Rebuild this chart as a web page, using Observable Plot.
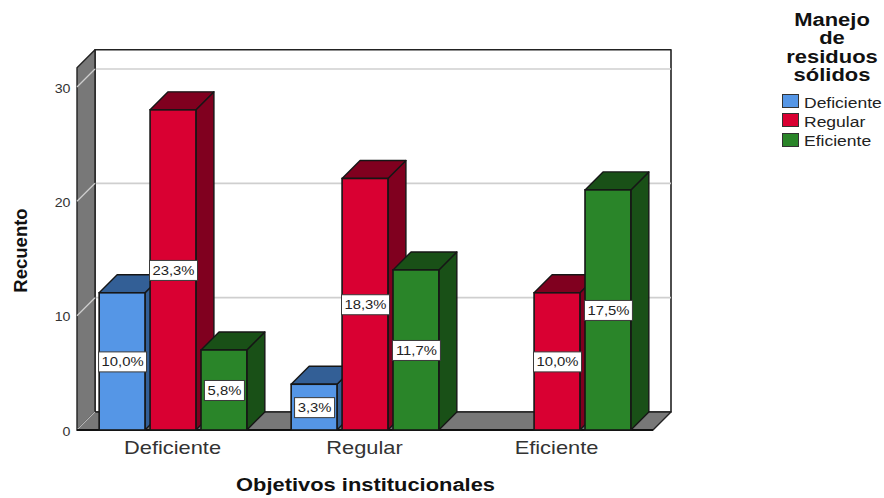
<!DOCTYPE html>
<html>
<head>
<meta charset="utf-8">
<script src="https://cdn.jsdelivr.net/npm/d3@7"></script>
<script src="https://cdn.jsdelivr.net/npm/@observablehq/plot@0.6"></script>
<style>
html,body{margin:0;padding:0;background:#fff}
#wrap{position:relative;width:884px;height:498px;overflow:hidden;font-family:"Liberation Sans",Arial,sans-serif}
#legendTitle{position:absolute;left:772px;top:11px;width:120px;text-align:center;font-weight:bold;font-size:18px;line-height:18.3px;color:#111}
#legendTitle div{transform:scaleX(1.22)}
.sw{position:absolute;left:782px;width:15px;height:12px;border:1.5px solid #333}
.lab{position:absolute;left:804px;font-size:14px;line-height:16px;color:#222;transform:scaleX(1.25);transform-origin:left center;white-space:nowrap}
</style>
</head>
<body>
<div id="wrap"></div>
<script>
const groups = ["Deficiente", "Regular", "Eficiente"];
const series = ["Deficiente", "Regular", "Eficiente"];
const countsDeficiente = [12, 28, 7];
const countsRegular = [4, 22, 14];
const countsEficiente = [0, 12, 21];
const pctDeficiente = ["10,0%", "23,3%", "5,8%"];
const pctRegular = ["3,3%", "18,3%", "11,7%"];
const pctEficiente = ["", "10,0%", "17,5%"];
const frontColors = ["#5596E6", "#D90032", "#2A8529"];
const shadeColors = ["#335F96", "#80001F", "#195017"];
const yTicks = [0, 10, 20, 30];
const legendTitleLines = ["Manejo", "de", "residuos", "sólidos"];

const counts = [countsDeficiente, countsRegular, countsEficiente];
const pcts = [pctDeficiente, pctRegular, pctEficiente];
const rows = groups.flatMap((g, i) => series.map((s, j) => ({group: g, series: s, value: counts[i][j], pct: pcts[i][j]})))
  .filter(d => d.value > 0);

const depth = 18;
const edge = "#161616";
const yTopValue = 31.68;
const NS = "http://www.w3.org/2000/svg";
const shade = d3.scaleOrdinal(series, shadeColors);

function poly(points, fill, stroke, sw) {
  const p = document.createElementNS(NS, "polygon");
  p.setAttribute("points", points.map(q => q.join(",")).join(" "));
  p.setAttribute("fill", fill);
  p.setAttribute("stroke", stroke);
  p.setAttribute("stroke-width", sw);
  p.setAttribute("stroke-linejoin", "round");
  return p;
}
function line(x1, y1, x2, y2, stroke, sw) {
  const l = document.createElementNS(NS, "line");
  for (const [k, v] of Object.entries({x1, y1, x2, y2, stroke, "stroke-width": sw})) l.setAttribute(k, v);
  return l;
}

// Walls, floor and gridlines of the 3D box, placed through the chart's scales.
function box(index, scales, values, dims) {
  const g = document.createElementNS(NS, "g");
  const L = dims.marginLeft, R = dims.width - dims.marginRight;
  const y0 = scales.y(0), yT = scales.y(yTopValue);
  g.appendChild(poly([[L + depth, yT - depth], [R + depth, yT - depth], [R + depth, y0 - depth], [L + depth, y0 - depth]], "#fff", "#222", 1.6));
  for (const t of yTicks.slice(1)) {
    const y = scales.y(t);
    g.appendChild(line(L + depth, y - depth, R + depth, y - depth, "#cfcfcf", 1.6));
  }
  g.appendChild(poly([[L, yT], [L + depth, yT - depth], [L + depth, y0 - depth], [L, y0]], "#787878", "#222", 1.4));
  g.appendChild(poly([[L, y0], [L + depth, y0 - depth], [R + depth, y0 - depth], [R, y0]], "#787878", "#222", 1.4));
  for (const t of yTicks.slice(1)) {
    const y = scales.y(t);
    g.appendChild(line(L, y, L + depth, y - depth, "#cfcfcf", 1.3));
  }
  g.appendChild(line(L, y0, L + depth, y0 - depth, "#b5b5b5", 1.2));
  g.appendChild(line(L, y0, R, y0, "#111", 1.8));
  return g;
}

function bars3d(index, scales, values, dims, ctx, next) {
  const g = next(index, scales, values, dims, ctx);
  const rects = [...g.querySelectorAll("rect")];
  rects.forEach((r, n) => {
    const x = +r.getAttribute("x"), y = +r.getAttribute("y");
    const w = +r.getAttribute("width"), h = +r.getAttribute("height");
    const s = rows[index[n]].series;
    g.insertBefore(poly([[x + w, y], [x + w + depth, y - depth], [x + w + depth, y + h - depth], [x + w, y + h]], shade(s), edge, 1.4), r);
    g.insertBefore(poly([[x, y], [x + depth, y - depth], [x + w + depth, y - depth], [x + w, y]], shade(s), edge, 1.4), r);
  });
  return g;
}

function labelBoxes(index, scales, values, dims, ctx, next) {
  const g = next(index, scales, values, dims, ctx);
  [...g.querySelectorAll("text")].forEach((t, n) => {
    const chars = rows[index[n]].pct.length;
    const w = 8 * chars + 8, h = 20;
    const b = document.createElementNS(NS, "rect");
    const tr = t.getAttribute("transform");
    const m = /translate\(([-\d.]+),?\s*([-\d.]+)?\)/.exec(tr || "");
    const cx = m ? +m[1] : +t.getAttribute("x"), cy = m ? +(m[2] || 0) : +t.getAttribute("y");
    b.setAttribute("x", cx - w / 2); b.setAttribute("y", cy - h / 2);
    b.setAttribute("width", w); b.setAttribute("height", h);
    b.setAttribute("fill", "#fff"); b.setAttribute("stroke", "#3a3a3a"); b.setAttribute("stroke-width", 1);
    g.insertBefore(b, t);
  });
  return g;
}

const chart = Plot.plot({
  width: 884,
  height: 498,
  marginLeft: 76,
  marginRight: 231,
  marginTop: 70,
  marginBottom: 68,
  style: {fontFamily: "'Liberation Sans', Arial, sans-serif", background: "#fff"},
  fx: {domain: groups, padding: 0, axis: null},
  x: {domain: series, paddingInner: 0.1, paddingOuter: 0.435, round: false, axis: null},
  y: {domain: [0, 30], range: [430, 87], axis: null},
  color: {domain: series, range: frontColors},
  marks: [
    Plot.frame({facet: "super", render: box}),
    Plot.barY(rows, {fx: "group", x: "series", y: "value", fill: "series", stroke: edge, strokeWidth: 1.6, render: bars3d}),
    Plot.text(rows, {fx: "group", x: "series", y: d => d.value / 2, text: "pct", fontSize: 13.5, fill: "#222", render: labelBoxes}),
    Plot.axisY({ticks: yTicks, tickSize: 0, tickPadding: 7, dy: 1, fontSize: 13.5, label: null, color: "#333"}),
    Plot.axisFx({anchor: "bottom", tickSize: 0, tickPadding: 10, dx: -1, fontSize: 18.5, label: null, color: "#333"}),
    Plot.text(["Recuento"], {facet: "super", frameAnchor: "left", textAnchor: "middle", rotate: -90, dx: -56, fontSize: 18.5, fontWeight: "bold", fill: "#111"}),
    Plot.text(["Objetivos institucionales"], {facet: "super", frameAnchor: "bottom", dy: 60, fontSize: 17.5, fontWeight: "bold", fill: "#111"})
  ]
});

const wrap = document.getElementById("wrap");
wrap.appendChild(chart);

// The reference's text is slightly widened horizontally.
const widen = {"Recuento": 1.0, "Objetivos institucionales": 1.25};
chart.querySelectorAll("text").forEach(t => {
  const s = t.textContent;
  const f = widen[s] ?? (s.includes("%") ? 1.1 : /^\d+$/.test(s) ? 1.05 : 1.18);
  if (t.getComputedTextLength && f !== 1) {
    t.setAttribute("lengthAdjust", "spacingAndGlyphs");
    t.setAttribute("textLength", t.getComputedTextLength() * f);
  }
});

const title = document.createElement("div");
title.id = "legendTitle";
legendTitleLines.forEach(l => { const d = document.createElement("div"); d.textContent = l; title.appendChild(d); });
wrap.appendChild(title);
series.forEach((s, i) => {
  const sw = document.createElement("div");
  sw.className = "sw"; sw.style.top = (94 + i * 19.3) + "px"; sw.style.background = frontColors[i];
  wrap.appendChild(sw);
  const t = document.createElement("div");
  t.className = "lab"; t.textContent = s; t.style.top = (94.5 + i * 19.3) + "px";
  wrap.appendChild(t);
});
</script>
</body>
</html>
